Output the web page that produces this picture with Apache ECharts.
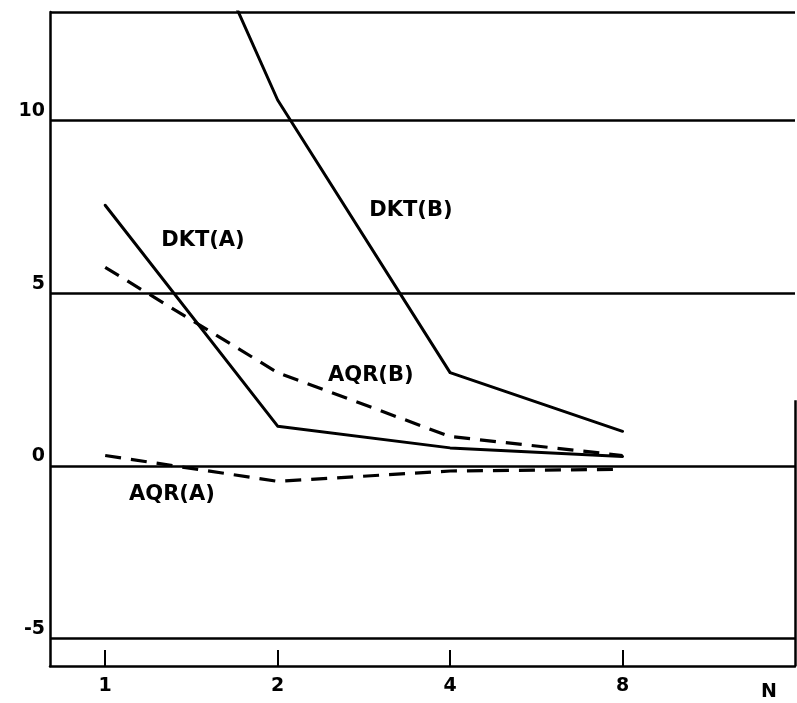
<!DOCTYPE html>
<html>
<head>
<meta charset="utf-8">
<style>
  html, body { margin: 0; padding: 0; background: #fff; }
  #chart { width: 797px; height: 703px; }
</style>
<script src="https://cdn.jsdelivr.net/npm/echarts@6/dist/echarts.min.js"></script>
</head>
<body>
<div id="chart"></div>
<script>
// ---- data ----
var categories = ['1', '2', '4', '8'];
var dktA = [7.55, 1.15, 0.52, 0.27];
var dktB = [21.8, 10.6, 2.7, 1.0];
var aqrB = [5.75, 2.7, 0.85, 0.3];
var aqrA = [0.3, -0.45, -0.15, -0.1];
var yTicks = [-5, 0, 5, 10];
var seriesNames = ['DKT(A)', 'DKT(B)', 'AQR(B)', 'AQR(A)'];

var FONT = 'DejaVu Sans';
var Y_MIN = -5.8, Y_MAX = 13.15;
var X_MIN = -0.32, X_MAX = 4.0;

function pairs(arr) {
  return arr.map(function (v, i) { return [i, v]; });
}
var catIdx = categories.map(function (c, i) { return i; });

function solid() { return { color: '#000', width: 3, type: 'solid', cap: 'round', join: 'round' }; }
function dashed() { return { color: '#000', width: 3.2, type: [16, 10] }; }

function nameMark(name, coord) {
  return {
    symbol: 'circle', symbolSize: 0,
    data: [{ coord: coord, value: name }],
    label: {
      show: true, position: 'inside', formatter: name,
      fontFamily: FONT, fontWeight: 'bold', fontSize: 21, color: '#000'
    }
  };
}

var chart = echarts.init(document.getElementById('chart'), null, { renderer: 'canvas' });
var option = {
  animation: false,
  backgroundColor: '#fff',
  grid: { left: 50, right: 2, top: 12, bottom: 37 },
  xAxis: {
    type: 'value', min: X_MIN, max: X_MAX,
    name: 'N', nameLocation: 'end', nameGap: -34,
    nameTextStyle: { fontFamily: FONT, fontWeight: 'bold', fontSize: 19, color: '#000',
      verticalAlign: 'top', align: 'left', padding: [17, 0, 0, 0] },
    axisLine: { show: true, onZero: false, lineStyle: { color: '#000', width: 2.5 } },
    axisTick: { show: true, inside: true, length: 16, customValues: catIdx,
      lineStyle: { color: '#000', width: 2 } },
    axisLabel: { show: true, margin: 11, customValues: catIdx,
      formatter: function (v) { return categories[Math.round(v)]; },
      fontFamily: FONT, fontWeight: 'bold', fontSize: 19, color: '#000' },
    splitLine: { show: false }
  },
  yAxis: {
    type: 'value', min: Y_MIN, max: Y_MAX,
    axisLine: { show: true, onZero: false, lineStyle: { color: '#000', width: 2.5 } },
    axisTick: { show: false },
    axisLabel: { show: true, margin: 5, customValues: yTicks, verticalAlign: 'bottom',
      fontFamily: FONT, fontWeight: 'bold', fontSize: 19, color: '#000' },
    splitLine: { show: false }
  },
  series: [
    {
      name: seriesNames[0], type: 'line', data: pairs(dktA), symbol: 'none',
      lineStyle: solid(), z: 3,
      markPoint: nameMark(seriesNames[0], [0.567, 6.54]),
      markLine: {
        silent: true, symbol: ['none', 'none'], label: { show: false },
        lineStyle: { color: '#000', width: 2.5, type: 'solid' },
        data: yTicks.map(function (t) { return { yAxis: t }; }).concat([
          { yAxis: Y_MAX },
          [{ coord: [X_MAX, Y_MIN] }, { coord: [X_MAX, 1.9] }]
        ])
      }
    },
    {
      name: seriesNames[1], type: 'line', data: pairs(dktB), symbol: 'none',
      lineStyle: solid(), z: 3, clip: true,
      markPoint: nameMark(seriesNames[1], [1.773, 7.4])
    },
    {
      name: seriesNames[2], type: 'line', data: pairs(aqrB), symbol: 'none',
      lineStyle: dashed(), z: 3,
      markPoint: nameMark(seriesNames[2], [1.54, 2.63])
    },
    {
      name: seriesNames[3], type: 'line', data: pairs(aqrA), symbol: 'none',
      lineStyle: dashed(), z: 3,
      markPoint: nameMark(seriesNames[3], [0.387, -0.82])
    }
  ]
};
chart.setOption(option);
</script>
</body>
</html>
